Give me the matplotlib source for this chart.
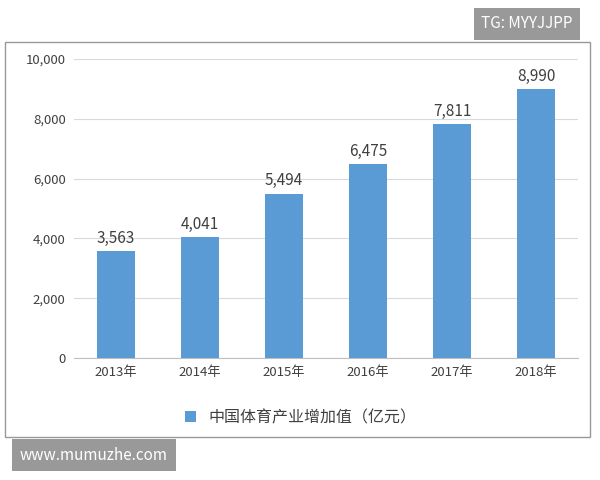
import matplotlib
matplotlib.use("Agg")
import matplotlib.pyplot as plt
from matplotlib.patches import Rectangle

plt.rcParams['font.family'] = ['Noto Sans CJK SC', 'DejaVu Sans']

years = ["2013年", "2014年", "2015年", "2016年", "2017年", "2018年"]
values = [3563, 4041, 5494, 6475, 7811, 8990]
yticks = [0, 2000, 4000, 6000, 8000, 10000]
series_name = "中国体育产业增加值（亿元）"
color = "#5B9BD5"

fig = plt.figure(figsize=(6, 4.8), dpi=100)
fig.patches.append(Rectangle((5/600, 1-437/480), 585/600, 395/480, transform=fig.transFigure,
                             fill=False, edgecolor="#999999", lw=1))
ax = fig.add_axes([74/600, 1-358/480, 504/600, 299/480])
x = range(len(years))
bars = ax.bar(x, values, width=0.45, color=color, label=series_name, zorder=3)
for xi, v in zip(x, values):
    ax.text(xi, v + 150, f"{v:,}", ha="center", va="bottom", fontsize=11, color="#404040")
ax.set_ylim(0, 10000)
ax.set_xlim(-0.5, 5.5)
ax.set_yticks(yticks)
ax.set_yticklabels([f"{t:,}" for t in yticks], fontsize=9.5, color="#404040")
ax.set_xticks(list(x))
ax.set_xticklabels(years, fontsize=9.5, color="#404040")
ax.grid(axis="y", color="#d9d9d9", lw=0.8, zorder=0)
for s in ["top", "right", "left"]:
    ax.spines[s].set_visible(False)
ax.spines["bottom"].set_color("#bfbfbf")
ax.tick_params(length=0, pad=6)
ax.legend(loc="center", bbox_to_anchor=(0.45, -0.2), frameon=False, fontsize=11.5,
          handlelength=0.7, handleheight=0.7, labelcolor="#404040")

fig.text(527/600, 1-24/480, "TG: MYYJJPP", ha="center", va="center", fontsize=11, color="white",
         bbox=dict(boxstyle="square,pad=0.5", fc="#999999", ec="none"))
fig.text(94/600, 1-455/480, "www.mumuzhe.com", ha="center", va="center", fontsize=11, color="white",
         bbox=dict(boxstyle="square,pad=0.5", fc="#999999", ec="none"))
fig.savefig("out.png", dpi=100)
